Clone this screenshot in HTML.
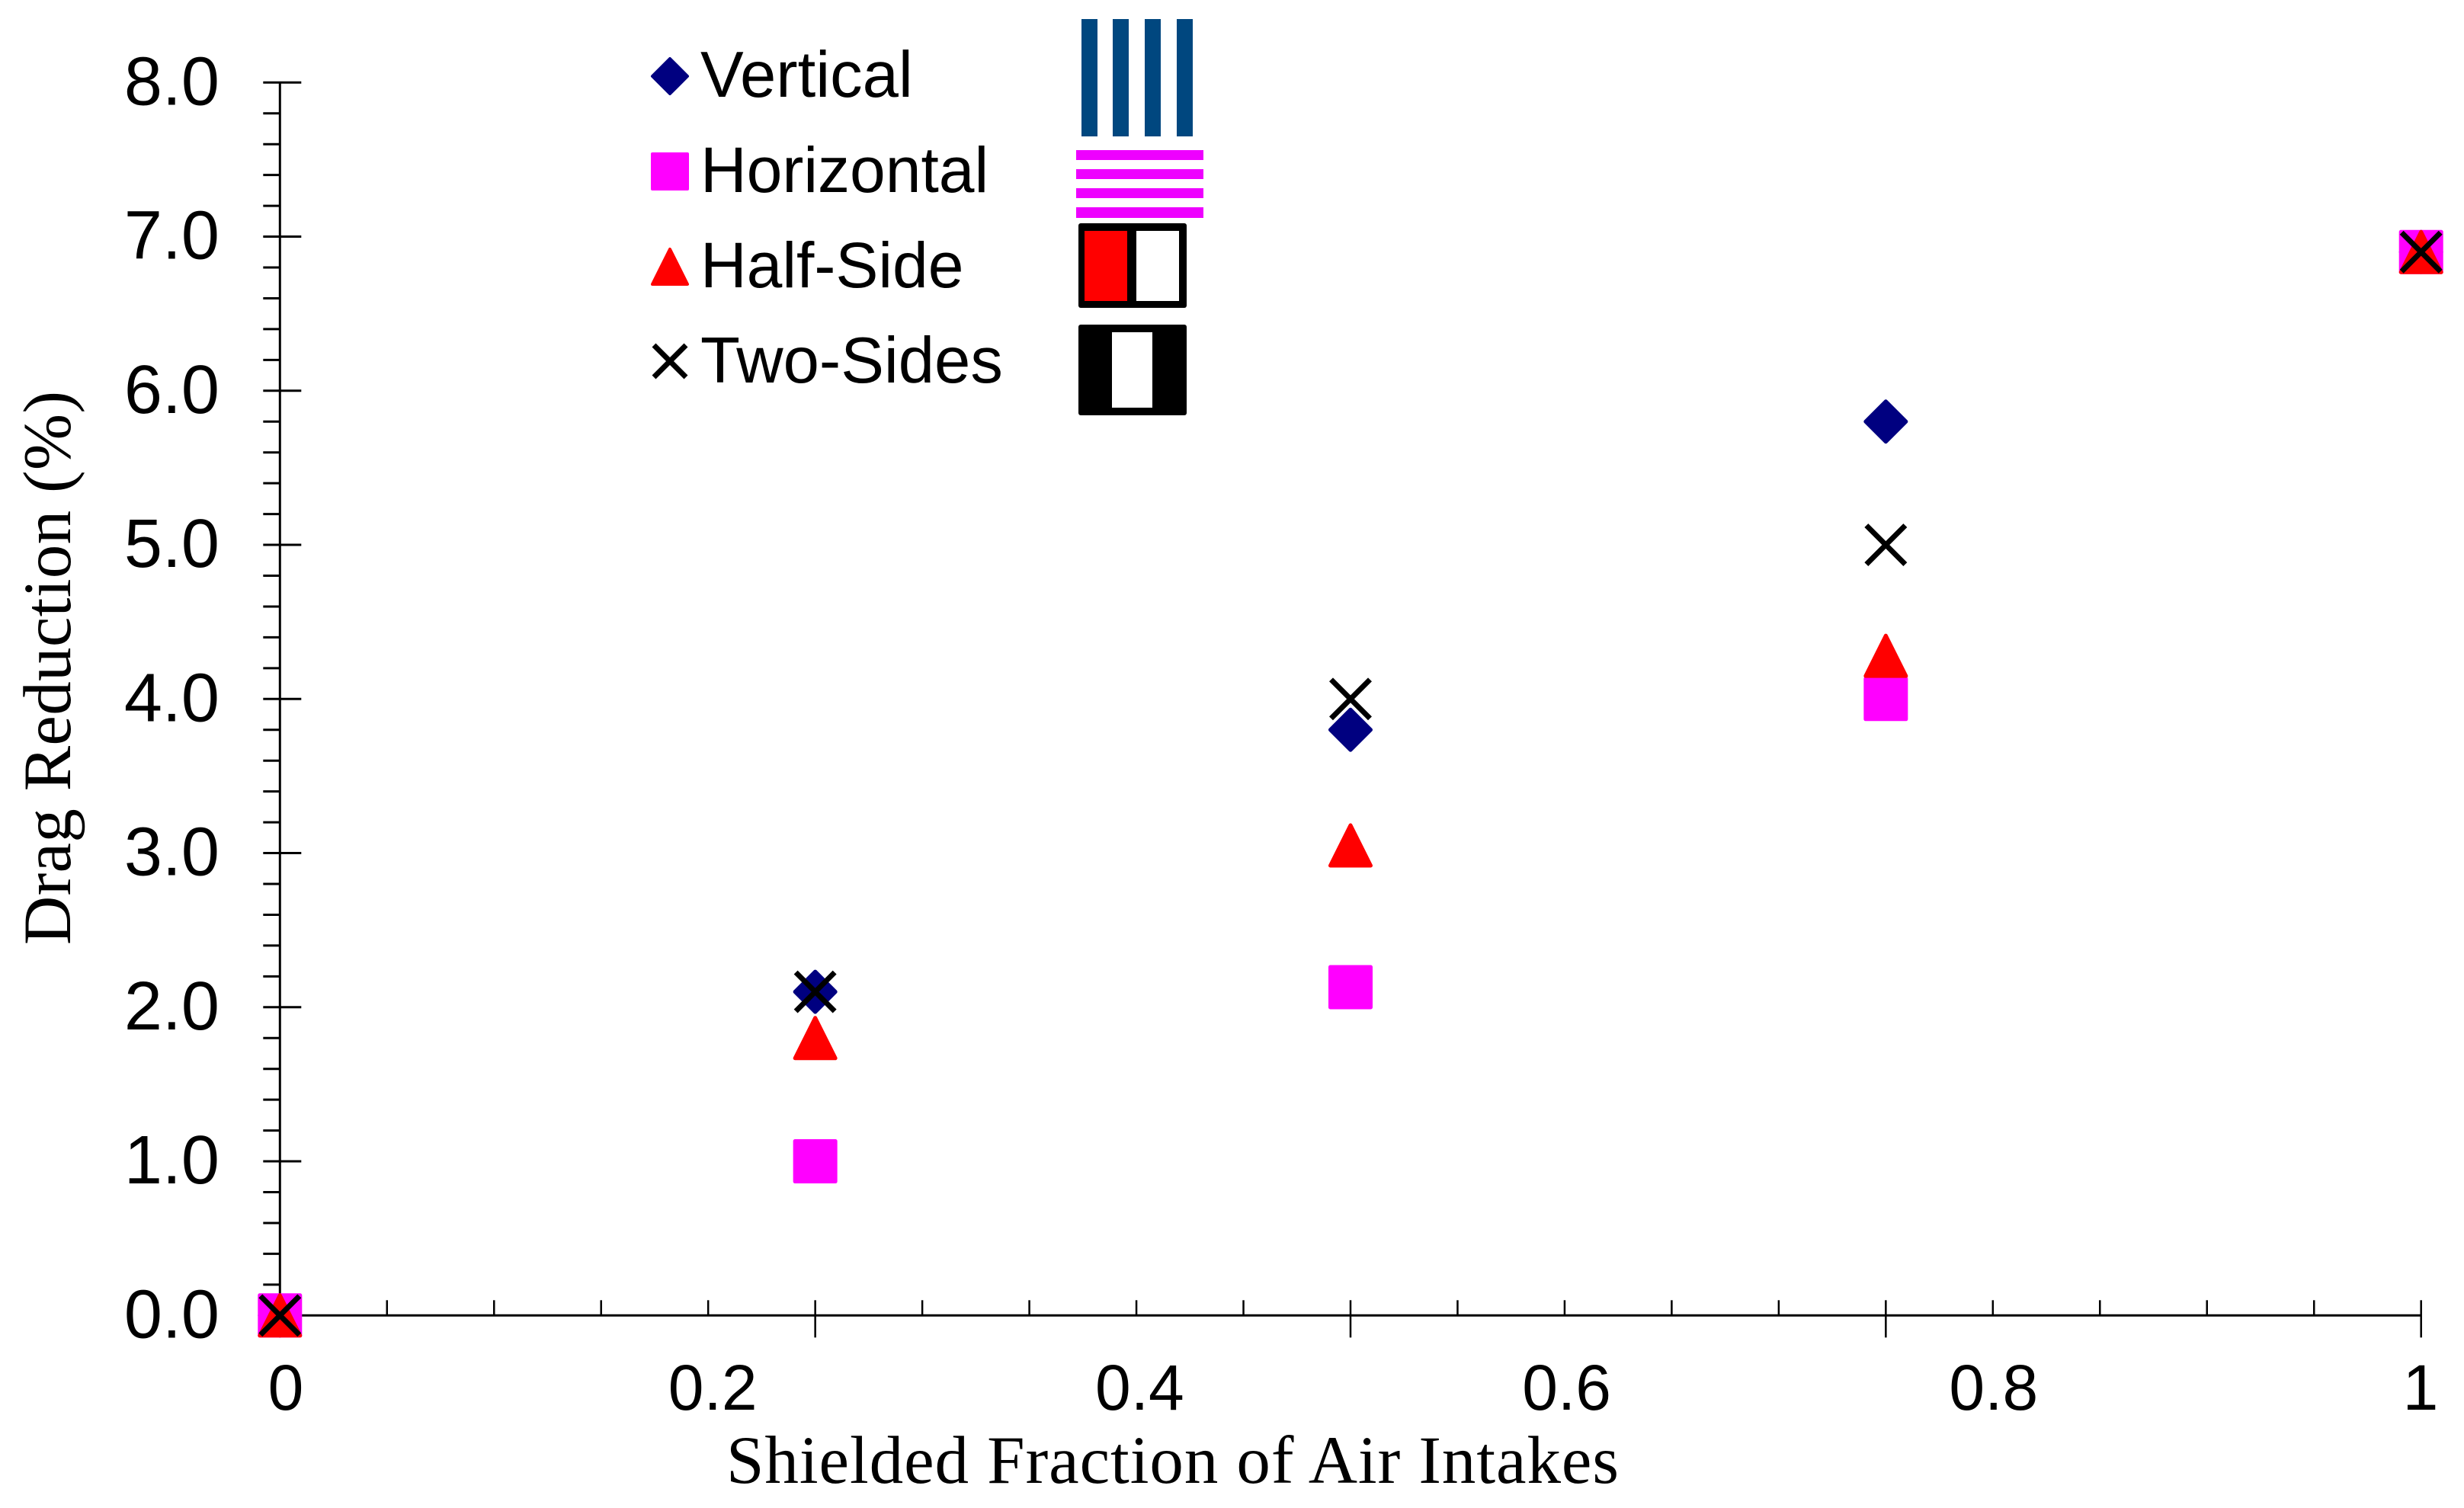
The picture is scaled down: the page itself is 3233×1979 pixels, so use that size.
<!DOCTYPE html>
<html lang="en">
<head>
<meta charset="utf-8">
<title>Drag Reduction vs Shielded Fraction of Air Intakes</title>
<style>
html,body{margin:0;padding:0;background:#fff;}
svg{display:block;}
text{fill:#000;}
.sans{font-family:"Liberation Sans",Arial,sans-serif;}
.serif{font-family:"Liberation Serif","Times New Roman",serif;}
</style>
</head>
<body>
<svg id="chart" xmlns="http://www.w3.org/2000/svg" width="3233" height="1979" viewBox="0 0 3233 1979">
  <rect x="0" y="0" width="3233" height="1979" fill="#fff"/>
  <g id="axes"></g>
  <g id="marks"></g>

  <text class="serif" x="953" y="1946" font-size="89" textLength="1171" lengthAdjust="spacing">Shielded Fraction of Air Intakes</text>
  <text class="serif" transform="translate(92,1240) rotate(-90)" x="0" y="0" font-size="89" textLength="727" lengthAdjust="spacing">Drag Reduction (%)</text>

  <g>
    <g>
      <polygon points="879,77 902,100 879,123 856,100" fill="#000080" stroke="#000080" stroke-width="4" stroke-linejoin="round"/>
      <text class="sans" x="919" y="127" font-size="85">Vertical</text>
      <g fill="#00477f">
        <rect x="1419" y="25" width="21" height="154"/>
        <rect x="1460" y="25" width="21" height="154"/>
        <rect x="1502" y="25" width="21" height="154"/>
        <rect x="1544" y="25" width="21" height="154"/>
      </g>
    </g>
    <g>
      <rect x="856" y="202" width="46" height="46" fill="#ff00ff" stroke="#ff00ff" stroke-width="4" stroke-linejoin="round"/>
      <text class="sans" x="919" y="252" font-size="84">Horizontal</text>
      <g fill="#ee00ff">
        <rect x="1412" y="197" width="167" height="13"/>
        <rect x="1412" y="222" width="167" height="13"/>
        <rect x="1412" y="247" width="167" height="13"/>
        <rect x="1412" y="272" width="167" height="14"/>
      </g>
    </g>
    <g>
      <polygon points="879,327 902,373 856,373" fill="#ff0000" stroke="#ff0000" stroke-width="4" stroke-linejoin="round"/>
      <text class="sans" x="919" y="377" font-size="84">Half-Side</text>
      <g>
        <rect x="1415" y="293" width="142" height="111" rx="3" fill="#000"/>
        <rect x="1423" y="303" width="56" height="92" fill="#ff0000"/>
        <rect x="1491" y="303" width="56" height="92" fill="#fff"/>
      </g>
    </g>
    <g>
      <path d="M858,453 L900,495 M900,453 L858,495" fill="none" stroke="#000" stroke-width="7"/>
      <text class="sans" x="919" y="502" font-size="85">Two-Sides</text>
      <g>
        <rect x="1415" y="426" width="142" height="119" rx="3" fill="#000"/>
        <rect x="1459" y="436" width="53" height="99" fill="#fff"/>
      </g>
    </g>
  </g>
</svg>
<script>
const xCategories = [0, 0.25, 0.5, 0.75, 1];
const verticalValues = [0, 2.1, 3.8, 5.8, 6.9];
const horizontalValues = [0, 1.0, 2.13, 4.0, 6.9];
const halfSideValues = [0, 1.8, 3.05, 4.28, 6.9];
const twoSidesValues = [0, 2.1, 4.0, 5.0, 6.9];
const yTickLabels = ['0.0', '1.0', '2.0', '3.0', '4.0', '5.0', '6.0', '7.0', '8.0'];
const xTickLabels = ['0', '0.2', '0.4', '0.6', '0.8', '1'];

const NS = 'http://www.w3.org/2000/svg';
const axes = document.getElementById('axes');
const marks = document.getElementById('marks');

function sx(v) { return 367.3 + v * 2809.4; }
function sy(v) { return 1726.3 - v * 202.25; }
function labelX(v) { return 375 + v * 2801; }

function make(tag, parent, props) {
  const el = document.createElementNS(NS, tag);
  for (const k in props) el.setAttribute(k, props[k]);
  parent.appendChild(el);
  return el;
}

/* axis lines */
const yAxisLine = make('line', axes, {x1: sx(0), x2: sx(0), y1: sy(8) - 1, y2: sy(0), stroke: '#000', 'stroke-width': 3});


const xAxisLine = make('line', axes, {x1: sx(0), x2: sx(1), y1: sy(0), y2: sy(0), stroke: '#000', 'stroke-width': 3});



/* y ticks: every 0.2, major on whole numbers */
for (let i = 0; i <= 40; i++) {
  const v = i * 0.2;
  const major = i % 5 === 0;
  const t = make('line', axes, {x1: sx(0) - 22, x2: sx(0) + (major ? 28 : 0), y1: sy(v), y2: sy(v), stroke: '#000', 'stroke-width': 3});
  
  
}

/* x ticks: every 0.05, major on quarters */
for (let i = 0; i <= 20; i++) {
  const v = i * 0.05;
  const major = i % 5 === 0;
  const t = make('line', axes, {x1: sx(v), x2: sx(v), y1: sy(0) - 20, y2: sy(0) + (major ? 29 : 0), stroke: '#000', 'stroke-width': 2.5});
  
  
}

/* tick labels */
yTickLabels.forEach(function (label) {
  const t = make('text', axes, {x: 288, y: sy(parseFloat(label)) + 29, 'font-size': 90, 'text-anchor': 'end', class: 'sans'});
  t.textContent = label;
  
  
});
xTickLabels.forEach(function (label) {
  const t = make('text', axes, {x: labelX(parseFloat(label)), y: 1850, 'font-size': 84, 'text-anchor': 'middle', class: 'sans'});
  t.textContent = label;
  
  
});

/* data points, drawn in legend order */
xCategories.forEach(function (c, i) {
  const cx = sx(c);
  const d = make('polygon', marks, {
    points: [[cx, sy(verticalValues[i]) - 26.5], [cx + 26.5, sy(verticalValues[i])], [cx, sy(verticalValues[i]) + 26.5], [cx - 26.5, sy(verticalValues[i])]].join(' '),
    fill: '#000080', stroke: '#000080', 'stroke-width': 5, 'stroke-linejoin': 'round'
  });
  
  
});
xCategories.forEach(function (c, i) {
  const s = make('rect', marks, {
    x: sx(c) - 26.5, y: sy(horizontalValues[i]) - 26.5, width: 53, height: 53,
    fill: '#ff00ff', stroke: '#ff00ff', 'stroke-width': 5, 'stroke-linejoin': 'round'
  });
  
  
});
xCategories.forEach(function (c, i) {
  const cx = sx(c);
  const cy = sy(halfSideValues[i]);
  const t = make('polygon', marks, {
    points: [[cx, cy - 26.5], [cx + 26.5, cy + 26.5], [cx - 26.5, cy + 26.5]].join(' '),
    fill: '#ff0000', stroke: '#ff0000', 'stroke-width': 5, 'stroke-linejoin': 'round'
  });
  
  
});
xCategories.forEach(function (c, i) {
  const cx = sx(c);
  const cy = sy(twoSidesValues[i]);
  const r = 25.5;
  const x = make('path', marks, {
    d: 'M' + (cx - r) + ',' + (cy - r) + ' L' + (cx + r) + ',' + (cy + r) + ' M' + (cx + r) + ',' + (cy - r) + ' L' + (cx - r) + ',' + (cy + r),
    fill: 'none', stroke: '#000', 'stroke-width': 7
  });
  
  
});
</script>
</body>
</html>
